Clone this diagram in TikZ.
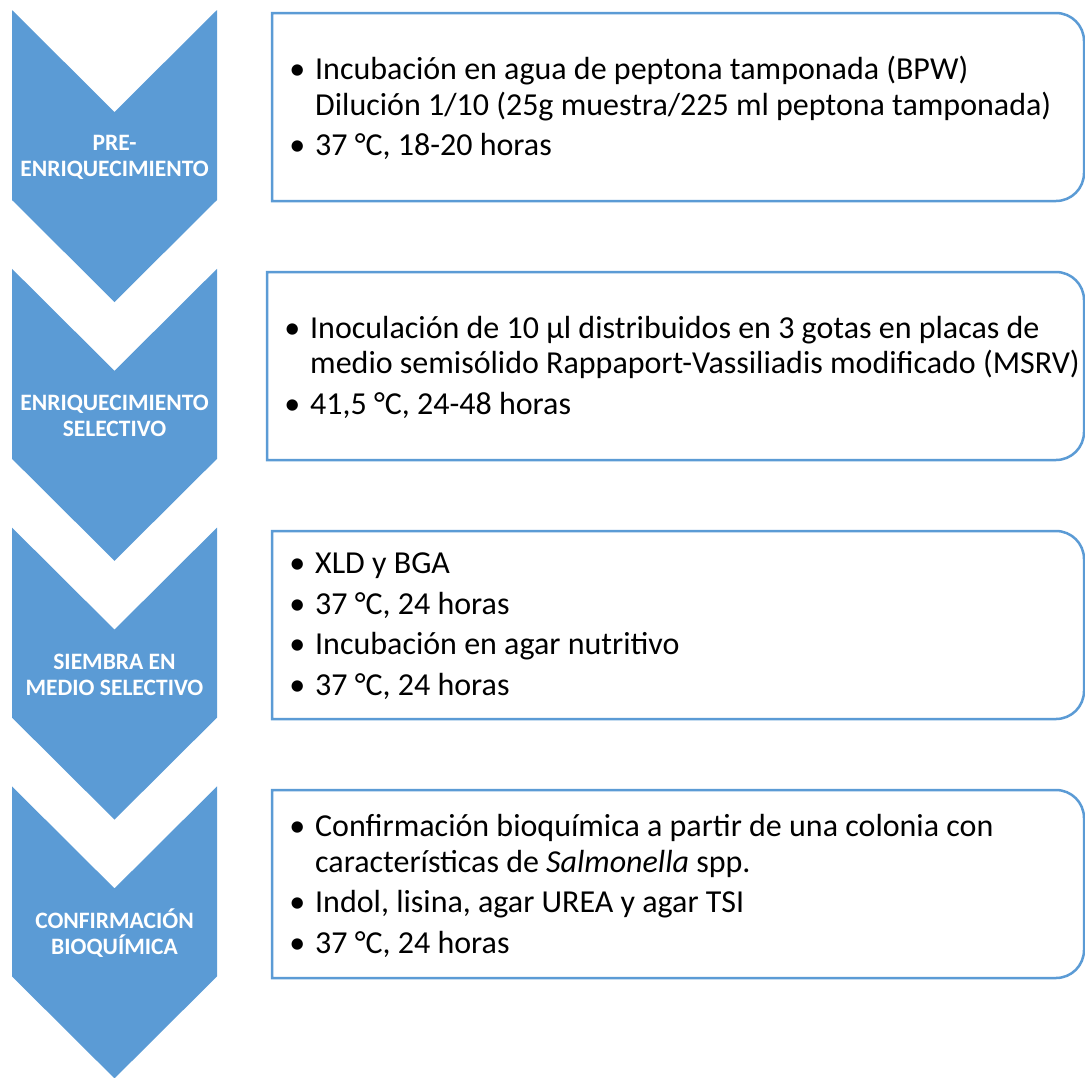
\documentclass[tikz,border=0pt]{standalone}
\usepackage{fontspec}
\setmainfont{Carlito}
\definecolor{acc}{HTML}{5B9BD5}
\newcommand\bul{\llap{\textbullet\hspace{10pt}}}
% chevron: #1 = top y
\newcommand\chevpath[1]{(12,#1) -- (114.5,{#1+102}) -- (217,#1) -- (217,{#1+190}) -- (114.5,{#1+292}) -- (12,{#1+190}) -- cycle}
% box with rounded right corners: x0,y0,x1,y1
\newcommand\rboxpath[4]{(#1,#2) -- ({#3-28},#2) .. controls ({#3-12.5},#2) and (#3,{#2+12.5}) .. (#3,{#2+28}) -- (#3,{#4-28}) .. controls (#3,{#4-12.5}) and ({#3-12.5},#4) .. ({#3-28},#4) -- (#1,#4) -- cycle}
\begin{document}
\begin{tikzpicture}[x=1pt,y=-1pt,
  chev/.style={fill=acc,draw=none},
  stepbox/.style={draw=acc,line width=2.5pt,fill=white},
  chevlabel/.style={text=white,font=\fontsize{23.5}{26}\selectfont\bfseries,align=center,inner sep=0pt},
  boxtext/.style={anchor=west,align=left,inner sep=0pt,font=\fontsize{32}{35.5}\selectfont}]
\useasboundingbox (0,0) rectangle (1085,1077);
% chevrons
\fill[chev] \chevpath{10};
\fill[chev] \chevpath{268.8};
\fill[chev] \chevpath{527.6};
\fill[chev] \chevpath{786.4};
\node[chevlabel] (c1) at (114.5,157) {PRE-\\ENRIQUECIMIENTO};
\node[chevlabel] (c2) at (114.5,415.8) {ENRIQUECIMIENTO\\SELECTIVO};
\node[chevlabel] (c3) at (114.5,674.6) {SIEMBRA EN\\MEDIO SELECTIVO};
\node[chevlabel] (c4) at (114.5,933.4) {CONFIRMACIÓN\\BIOQUÍMICA};
% boxes
\draw[stepbox] \rboxpath{272}{13}{1084}{201};
\draw[stepbox] \rboxpath{267}{272}{1084}{460};
\draw[stepbox] \rboxpath{272}{531}{1084}{719};
\draw[stepbox] \rboxpath{272}{790}{1084}{978};
\node[boxtext] (t1) at (315,108) {\bul Incubación en agua de peptona tamponada (BPW)\\
Dilución 1/10 (25g muestra/225 ml peptona tamponada)\\[5pt]
\bul 37 °C, 18-20 horas};
\node[boxtext] (t2) at (310,367) {\bul Inoculación de 10 µl distribuidos en 3 gotas en placas de\\
medio semisólido Rappaport-Vassiliadis modificado (MSRV)\\[5pt]
\bul 41,5 °C, 24-48 horas};
\node[boxtext] (t3) at (315,626) {\bul XLD y BGA\\[5pt]
\bul 37 °C, 24 horas\\[5pt]
\bul Incubación en agar nutritivo\\[5pt]
\bul 37 °C, 24 horas};
\node[boxtext] (t4) at (315,886) {\bul Confirmación bioquímica a partir de una colonia con\\
características de \textit{Salmonella} spp.\\[5pt]
\bul Indol, lisina, agar UREA y agar TSI\\[5pt]
\bul 37 °C, 24 horas};
\end{tikzpicture}
\end{document}
